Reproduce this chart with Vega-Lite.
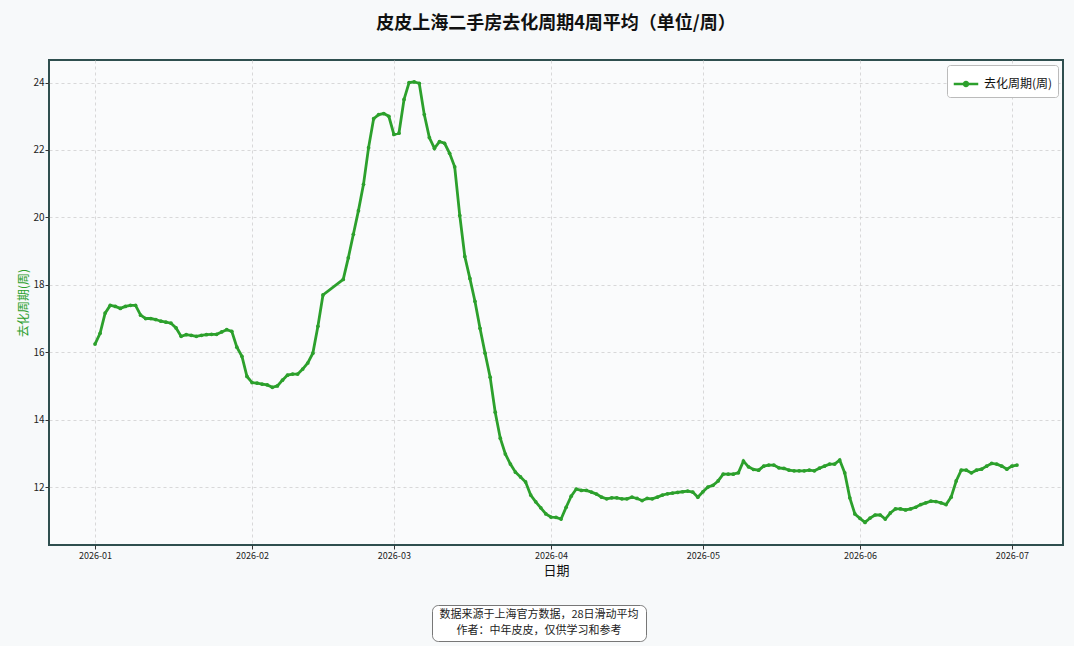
{
  "$schema": "https://vega.github.io/schema/vega-lite/v6.json",
  "background": "#f7f9fa",
  "padding": {"left": 16, "top": 14, "right": 10, "bottom": 4},
  "config": {
    "font": "Noto Sans CJK SC",
    "axis": {
      "labelFont": "Noto Sans CJK SC",
      "titleFont": "Noto Sans CJK SC",
      "labelFontSize": 10,
      "labelColor": "#222",
      "tickColor": "#333",
      "tickSize": 4,
      "domain": false,
      "gridColor": "#cfcfcf",
      "gridDash": [3, 3],
      "gridWidth": 0.8
    },
    "legend": {"labelFont": "Noto Sans CJK SC"}
  },
  "datasets": {
    "weeks": [
      {"date": "2026-01-01", "value": 16.24}, {"date": "2026-01-02", "value": 16.56}, {"date": "2026-01-03", "value": 17.16},
      {"date": "2026-01-04", "value": 17.39}, {"date": "2026-01-05", "value": 17.36}, {"date": "2026-01-06", "value": 17.30},
      {"date": "2026-01-07", "value": 17.36}, {"date": "2026-01-08", "value": 17.39}, {"date": "2026-01-09", "value": 17.39},
      {"date": "2026-01-10", "value": 17.10}, {"date": "2026-01-11", "value": 17.00}, {"date": "2026-01-12", "value": 17.00},
      {"date": "2026-01-13", "value": 16.97}, {"date": "2026-01-14", "value": 16.92}, {"date": "2026-01-15", "value": 16.89},
      {"date": "2026-01-16", "value": 16.86}, {"date": "2026-01-17", "value": 16.72}, {"date": "2026-01-18", "value": 16.47},
      {"date": "2026-01-19", "value": 16.52}, {"date": "2026-01-20", "value": 16.50}, {"date": "2026-01-21", "value": 16.47},
      {"date": "2026-01-22", "value": 16.50}, {"date": "2026-01-23", "value": 16.52}, {"date": "2026-01-24", "value": 16.53},
      {"date": "2026-01-25", "value": 16.53}, {"date": "2026-01-26", "value": 16.60}, {"date": "2026-01-27", "value": 16.67},
      {"date": "2026-01-28", "value": 16.62}, {"date": "2026-01-29", "value": 16.15}, {"date": "2026-01-30", "value": 15.88},
      {"date": "2026-01-31", "value": 15.28},
      {"date": "2026-02-01", "value": 15.10}, {"date": "2026-02-02", "value": 15.08}, {"date": "2026-02-03", "value": 15.05},
      {"date": "2026-02-04", "value": 15.03}, {"date": "2026-02-05", "value": 14.96}, {"date": "2026-02-06", "value": 15.00},
      {"date": "2026-02-07", "value": 15.17}, {"date": "2026-02-08", "value": 15.32}, {"date": "2026-02-09", "value": 15.35},
      {"date": "2026-02-10", "value": 15.35}, {"date": "2026-02-11", "value": 15.50}, {"date": "2026-02-12", "value": 15.68},
      {"date": "2026-02-13", "value": 15.97}, {"date": "2026-02-14", "value": 16.77}, {"date": "2026-02-15", "value": 17.70},
      {"date": "2026-02-19", "value": 18.16}, {"date": "2026-02-20", "value": 18.80}, {"date": "2026-02-21", "value": 19.50},
      {"date": "2026-02-22", "value": 20.20}, {"date": "2026-02-23", "value": 20.98}, {"date": "2026-02-24", "value": 22.07},
      {"date": "2026-02-25", "value": 22.93}, {"date": "2026-02-26", "value": 23.05}, {"date": "2026-02-27", "value": 23.08},
      {"date": "2026-02-28", "value": 23.00},
      {"date": "2026-03-01", "value": 22.46}, {"date": "2026-03-02", "value": 22.50}, {"date": "2026-03-03", "value": 23.50},
      {"date": "2026-03-04", "value": 24.00}, {"date": "2026-03-05", "value": 24.02}, {"date": "2026-03-06", "value": 23.98},
      {"date": "2026-03-07", "value": 23.05}, {"date": "2026-03-08", "value": 22.37}, {"date": "2026-03-09", "value": 22.05},
      {"date": "2026-03-10", "value": 22.25}, {"date": "2026-03-11", "value": 22.20}, {"date": "2026-03-12", "value": 21.90},
      {"date": "2026-03-13", "value": 21.50}, {"date": "2026-03-14", "value": 20.06}, {"date": "2026-03-15", "value": 18.84},
      {"date": "2026-03-16", "value": 18.19}, {"date": "2026-03-17", "value": 17.51}, {"date": "2026-03-18", "value": 16.71},
      {"date": "2026-03-19", "value": 15.97}, {"date": "2026-03-20", "value": 15.26}, {"date": "2026-03-21", "value": 14.22},
      {"date": "2026-03-22", "value": 13.45}, {"date": "2026-03-23", "value": 12.98}, {"date": "2026-03-24", "value": 12.68},
      {"date": "2026-03-25", "value": 12.44}, {"date": "2026-03-26", "value": 12.30}, {"date": "2026-03-27", "value": 12.15},
      {"date": "2026-03-28", "value": 11.76}, {"date": "2026-03-29", "value": 11.56}, {"date": "2026-03-30", "value": 11.38},
      {"date": "2026-03-31", "value": 11.20},
      {"date": "2026-04-01", "value": 11.11}, {"date": "2026-04-02", "value": 11.10}, {"date": "2026-04-03", "value": 11.05},
      {"date": "2026-04-04", "value": 11.40}, {"date": "2026-04-05", "value": 11.73}, {"date": "2026-04-06", "value": 11.94},
      {"date": "2026-04-07", "value": 11.90}, {"date": "2026-04-08", "value": 11.90}, {"date": "2026-04-09", "value": 11.85},
      {"date": "2026-04-10", "value": 11.79}, {"date": "2026-04-11", "value": 11.70}, {"date": "2026-04-12", "value": 11.65},
      {"date": "2026-04-13", "value": 11.68}, {"date": "2026-04-14", "value": 11.68}, {"date": "2026-04-15", "value": 11.65},
      {"date": "2026-04-16", "value": 11.65}, {"date": "2026-04-17", "value": 11.70}, {"date": "2026-04-18", "value": 11.66},
      {"date": "2026-04-19", "value": 11.60}, {"date": "2026-04-20", "value": 11.66}, {"date": "2026-04-21", "value": 11.65},
      {"date": "2026-04-22", "value": 11.70}, {"date": "2026-04-23", "value": 11.76}, {"date": "2026-04-24", "value": 11.80},
      {"date": "2026-04-25", "value": 11.82}, {"date": "2026-04-26", "value": 11.84}, {"date": "2026-04-27", "value": 11.86},
      {"date": "2026-04-28", "value": 11.88}, {"date": "2026-04-29", "value": 11.85}, {"date": "2026-04-30", "value": 11.70},
      {"date": "2026-05-01", "value": 11.86}, {"date": "2026-05-02", "value": 12.00}, {"date": "2026-05-03", "value": 12.05},
      {"date": "2026-05-04", "value": 12.18}, {"date": "2026-05-05", "value": 12.38}, {"date": "2026-05-06", "value": 12.38},
      {"date": "2026-05-07", "value": 12.38}, {"date": "2026-05-08", "value": 12.42}, {"date": "2026-05-09", "value": 12.77},
      {"date": "2026-05-10", "value": 12.60}, {"date": "2026-05-11", "value": 12.52}, {"date": "2026-05-12", "value": 12.50},
      {"date": "2026-05-13", "value": 12.62}, {"date": "2026-05-14", "value": 12.65}, {"date": "2026-05-15", "value": 12.65},
      {"date": "2026-05-16", "value": 12.57}, {"date": "2026-05-17", "value": 12.55}, {"date": "2026-05-18", "value": 12.50},
      {"date": "2026-05-19", "value": 12.48}, {"date": "2026-05-20", "value": 12.48}, {"date": "2026-05-21", "value": 12.48},
      {"date": "2026-05-22", "value": 12.50}, {"date": "2026-05-23", "value": 12.48}, {"date": "2026-05-24", "value": 12.56},
      {"date": "2026-05-25", "value": 12.62}, {"date": "2026-05-26", "value": 12.68}, {"date": "2026-05-27", "value": 12.68},
      {"date": "2026-05-28", "value": 12.80}, {"date": "2026-05-29", "value": 12.42}, {"date": "2026-05-30", "value": 11.68},
      {"date": "2026-05-31", "value": 11.20},
      {"date": "2026-06-01", "value": 11.07}, {"date": "2026-06-02", "value": 10.95}, {"date": "2026-06-03", "value": 11.08},
      {"date": "2026-06-04", "value": 11.17}, {"date": "2026-06-05", "value": 11.17}, {"date": "2026-06-06", "value": 11.05},
      {"date": "2026-06-07", "value": 11.23}, {"date": "2026-06-08", "value": 11.35}, {"date": "2026-06-09", "value": 11.35},
      {"date": "2026-06-10", "value": 11.32}, {"date": "2026-06-11", "value": 11.35}, {"date": "2026-06-12", "value": 11.40},
      {"date": "2026-06-13", "value": 11.48}, {"date": "2026-06-14", "value": 11.53}, {"date": "2026-06-15", "value": 11.58},
      {"date": "2026-06-16", "value": 11.57}, {"date": "2026-06-17", "value": 11.53}, {"date": "2026-06-18", "value": 11.48},
      {"date": "2026-06-19", "value": 11.70}, {"date": "2026-06-20", "value": 12.18}, {"date": "2026-06-21", "value": 12.50},
      {"date": "2026-06-22", "value": 12.50}, {"date": "2026-06-23", "value": 12.42}, {"date": "2026-06-24", "value": 12.50},
      {"date": "2026-06-25", "value": 12.53}, {"date": "2026-06-26", "value": 12.62}, {"date": "2026-06-27", "value": 12.70},
      {"date": "2026-06-28", "value": 12.68}, {"date": "2026-06-29", "value": 12.62}, {"date": "2026-06-30", "value": 12.53},
      {"date": "2026-07-01", "value": 12.62}, {"date": "2026-07-02", "value": 12.65}
    ],
    "note": [
      {"row": 0, "text": "数据来源于上海官方数据，28日滑动平均"},
      {"row": 1, "text": "作者：中年皮皮，仅供学习和参考"}
    ]
  },
  "vconcat": [
    {
      "width": 1014,
      "height": 485,
      "title": {
        "text": "皮皮上海二手房去化周期4周平均（单位/周）",
        "fontSize": 18,
        "fontWeight": "bold",
        "color": "#111",
        "anchor": "middle",
        "offset": 27
      },
      "view": {"stroke": "#2f4f4f", "strokeWidth": 2, "fill": "#fafbfc"},
      "data": {"name": "weeks"},
      "mark": {"type": "line", "strokeWidth": 2.8, "point": {"filled": true, "size": 14}},
      "encoding": {
        "x": {
          "field": "date",
          "type": "temporal",
          "title": "日期",
          "scale": {
            "type": "utc",
            "domain": [
              {"year": 2025, "month": 12, "date": 22, "hours": 22, "utc": true},
              {"year": 2026, "month": 7, "date": 11, "hours": 2, "utc": true}
            ]
          },
          "axis": {
            "format": "%Y-%m",
            "values": [
              {"year": 2026, "month": 1, "date": 1, "utc": true},
              {"year": 2026, "month": 2, "date": 1, "utc": true},
              {"year": 2026, "month": 3, "date": 1, "utc": true},
              {"year": 2026, "month": 4, "date": 1, "utc": true},
              {"year": 2026, "month": 5, "date": 1, "utc": true},
              {"year": 2026, "month": 6, "date": 1, "utc": true},
              {"year": 2026, "month": 7, "date": 1, "utc": true}
            ],
            "labelFontSize": 9,
            "labelPadding": 2,
            "titleFontSize": 13,
            "titleFontWeight": "normal",
            "titleColor": "#111",
            "titlePadding": 4
          }
        },
        "y": {
          "field": "value",
          "type": "quantitative",
          "title": "去化周期(周)",
          "scale": {"domain": [10.28, 24.67], "nice": false, "zero": false},
          "axis": {
            "values": [12, 14, 16, 18, 20, 22, 24],
            "labelPadding": 1,
            "titleFontSize": 12,
            "titleFontWeight": "normal",
            "titleColor": "#2ca02c",
            "titlePadding": 2
          }
        },
        "color": {
          "datum": "去化周期(周)",
          "scale": {"range": ["#2ca02c"]},
          "legend": {
            "title": null,
            "orient": "top-right",
            "offset": 5,
            "padding": 5,
            "fillColor": "#ffffff",
            "strokeColor": "#bbbbbb",
            "cornerRadius": 3,
            "labelFontSize": 12,
            "labelColor": "#111",
            "symbolType": "M-1,0L1,0M0.16,0A0.16,0.16,0,1,1,-0.16,0A0.16,0.16,0,1,1,0.16,0Z",
            "symbolSize": 600,
            "symbolStrokeWidth": 2.6,
            "symbolFillColor": "#2ca02c",
            "symbolStrokeColor": "#2ca02c"
          }
        }
      }
    },
    {
      "hconcat": [
        {
          "width": 214,
          "height": 36,
          "view": {"stroke": "#777777", "strokeWidth": 1, "cornerRadius": 6, "fill": "#ffffff"},
          "data": {"name": "note"},
          "mark": {"type": "text", "fontSize": 11, "color": "#222", "align": "center", "baseline": "middle"},
          "encoding": {
            "x": {"datum": 0.5, "type": "quantitative", "scale": {"domain": [0, 1]}, "axis": null},
            "y": {"field": "row", "type": "ordinal", "scale": {"type": "point", "padding": 0.65}, "axis": null},
            "text": {"field": "text"}
          }
        },
        {
          "width": 34,
          "height": 36,
          "view": {"stroke": null},
          "data": {"values": []},
          "mark": "text",
          "encoding": {}
        }
      ],
      "spacing": 0
    }
  ],
  "resolve": {"legend": {"color": "independent"}, "scale": {"x": "independent", "y": "independent"}},
  "spacing": 26,
  "center": true
}
